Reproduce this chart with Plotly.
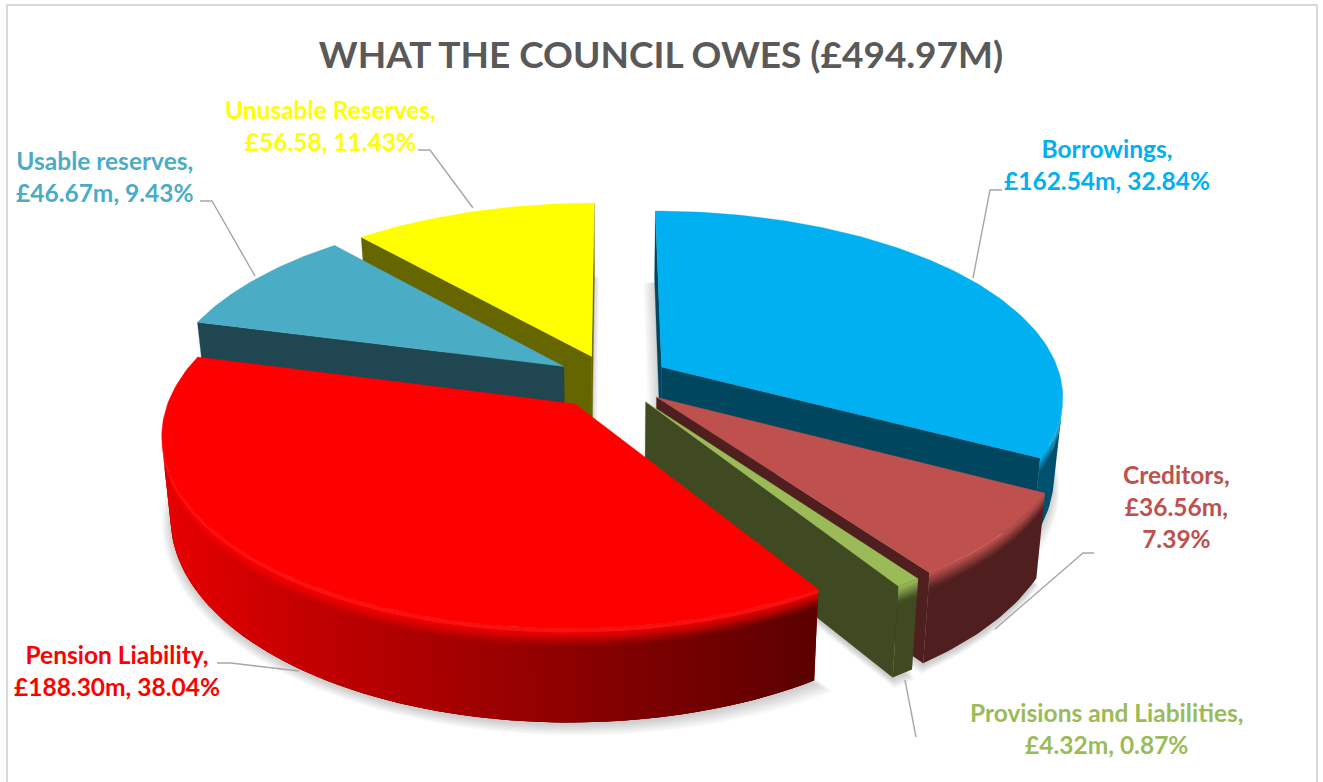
import math
import plotly.graph_objects as go

# Balance sheet liabilities, in £m, clockwise from twelve o'clock
categories = ["Borrowings", "Creditors", "Provisions and Liabilities",
              "Pension Liability", "Usable reserves", "Unusable Reserves"]
values = [162.54, 36.56, 4.32, 188.30, 46.67, 56.58]
value_labels = ["£162.54m, 32.84%", "£36.56m,<br>7.39%", "£4.32m, 0.87%",
                "£188.30m, 38.04%", "£46.67m, 9.43%", "£56.58, 11.43%"]
title_text = "WHAT THE COUNCIL OWES (£494.97M)"

# Slice styling
top_colors = ["#00B0F0", "#BE504D", "#9BBB59", "#FF0000", "#4BACC6", "#FFFF00"]
wall_colors = [[(0, "#00506F")], [(0, "#4E1F1E")], [(0, "#3F4A22")],
               [(170, "#E60000"), (330, "#BE0000"), (480, "#A00000"), (640, "#7E0000"), (815, "#5C0000")],
               [(0, "#1F4651")], [(0, "#666600")]]
cut_colors = ["#00465F", "#4E1F1E", "#3F4A22", "#5C0000", "#1F4651", "#666600"]
rim_glow = [0.0, 0.0, 0.0, 0.07, 0.0, 0.0]
explode_scale = [1.0, 1.0, 1.0, 1.14, 1.0, 1.0]
page_nudge = [0, 0, 0, 0, -3, -3]
draw_order = [5, 4, 0, 1, 2, 3]

# Projection of the tilted disc onto the page (pixels)
CX, CY = 614.0, 380.0
RX, RY = 400.0, 183.0
PERSP = 0.15
THICK = 78.0
SHRINK = 0.02
EXPLODE = 0.14
BEVEL_BANDS = [0.0, 0.03, 0.06, 0.09, 0.12, 0.15, 0.18]

LABEL_COLORS = top_colors[:]
LABEL_COLORS[1] = "#C0504D"
LABEL_POS = [(1107, 164), (1176, 506), (1106, 728), (117, 670), (105, 176), (330, 125)]
LEADERS = [[(1002, 190), (990, 190), (973, 278)],
           [(1094, 553), (1083, 553), (995, 629)],
           [(905, 680), (916, 737)],
           [(217, 663), (231, 663), (299, 671)],
           [(200, 201), (212, 201), (255, 276)],
           [(418, 150), (430, 150), (473, 208)]]


def project(x, y, z=0.0):
    d = 1 + PERSP * y
    px = CX + RX * x / d
    py = CY - RY * y / d
    px = CX + (px - CX) * (1 - SHRINK * z)
    return px, py + THICK * z / d


def hex_rgb(c):
    return tuple(int(c[i:i + 2], 16) for i in (1, 3, 5))


def rgb_hex(c):
    return "#%02X%02X%02X" % tuple(int(round(v)) for v in c)


def mix(a, b, t):
    return tuple(u + (v - u) * t for u, v in zip(a, b))


def wall_at(stops, x):
    if len(stops) == 1 or x <= stops[0][0]:
        return hex_rgb(stops[0][1])
    for (x0, c0), (x1, c1) in zip(stops, stops[1:]):
        if x <= x1:
            return mix(hex_rgb(c0), hex_rgb(c1), (x - x0) / (x1 - x0))
    return hex_rgb(stops[-1][1])


def area(pts):
    return sum(a[0] * b[1] - b[0] * a[1] for a, b in zip(pts, pts[1:] + pts[:1])) / 2


fig = go.Figure()


def polygon(pts, color, opacity=1.0, line=0.0):
    fig.add_trace(go.Scatter(
        x=[p[0] for p in pts] + [pts[0][0]], y=[p[1] for p in pts] + [pts[0][1]],
        mode="lines", fill="toself", fillcolor=color, opacity=opacity,
        line=dict(color=color, width=line), hoverinfo="skip", showlegend=False))


total = sum(values)
slices = []
acc = 0.0
for v, scale in zip(values, explode_scale):
    a0 = acc / total * 2 * math.pi
    acc += v
    a1 = acc / total * 2 * math.pi
    mid = (a0 + a1) / 2
    slices.append((a0, a1, EXPLODE * scale * math.sin(mid), EXPLODE * scale * math.cos(mid)))


def rim(i, a, z=0.0):
    _, _, ox, oy = slices[i]
    px, py = project(ox + math.sin(a), oy + math.cos(a), z)
    return px + page_nudge[i], py


def apex(i, z=0.0):
    _, _, ox, oy = slices[i]
    px, py = project(ox, oy, z)
    return px + page_nudge[i], py


def arc_angles(a0, a1):
    n = max(2, int((a1 - a0) / math.radians(1.0)))
    return [a0 + (a1 - a0) * j / n for j in range(n + 1)]


def strip(i, angles, z0, z1):
    return [rim(i, a, z0) for a in angles] + [rim(i, a, z1) for a in reversed(angles)]


def paint_strip(i, angles, z0, z1, shade):
    """Paint a band of the curved wall; neighbouring quads overlap so no seam shows."""
    if len(wall_colors[i]) == 1:
        polygon(strip(i, angles, z0, z1), rgb_hex(shade(wall_at(wall_colors[i], 0))))
        return
    polygon(strip(i, angles, z0, z1), rgb_hex(shade(wall_at(wall_colors[i], rim(i, angles[0], 0.5)[0]))))
    for j in range(len(angles) - 1):
        seg = angles[j:j + 3]
        base = wall_at(wall_colors[i], rim(i, angles[j], 0.5)[0])
        polygon(strip(i, seg, z0, z1), rgb_hex(shade(base)))


# Soft drop shadow under the footprint of every slice
for i in range(len(values)):
    a0, a1, _, _ = slices[i]
    foot = [apex(i, 1.0)] + [rim(i, a, 1.0) for a in arc_angles(a0, a1)]
    mx = sum(p[0] for p in foot) / len(foot)
    my = sum(p[1] for p in foot) / len(foot)
    for step in range(7):
        grow = 1.0 + 0.007 * step
        poly = [(mx + (p[0] - mx) * grow, my + (p[1] - my) * grow + 3 + step) for p in foot]
        polygon(poly, "#000000", opacity=0.026)

# Solid slices, back to front
for i in draw_order:
    a0, a1, _, _ = slices[i]
    apex_t, apex_b = apex(i, 0.0), apex(i, 1.0)
    top_rgb = hex_rgb(top_colors[i])

    for a, visible_sign in ((a0, -1), (a1, 1)):
        quad = [apex_t, rim(i, a, 0.0), rim(i, a, 1.0), apex_b]
        if area(quad) * visible_sign > 0:
            polygon(quad, cut_colors[i], line=0.3)

    angles = arc_angles(a0, a1)
    facing = [j for j, (u, w) in enumerate(zip(angles, angles[1:]))
              if area([rim(i, u, 0), rim(i, w, 0), rim(i, w, 1), rim(i, u, 1)]) < 0]
    if facing:
        front = angles[facing[0]:facing[-1] + 2]
        paint_strip(i, front, BEVEL_BANDS[-1], 1.0, lambda c: c)
        n_bands = len(BEVEL_BANDS) - 1
        # Rounded rim, lowest band first so each lighter band lands on the one below it
        for b in range(n_bands - 1, -1, -1):
            t = (b + 0.5) / n_bands
            glow = rim_glow[i] if b == 0 else 0.0
            paint_strip(i, front, BEVEL_BANDS[b], BEVEL_BANDS[b + 1] + 0.01,
                        lambda c, t=t, glow=glow: mix(mix(top_rgb, c, t), (255, 255, 255), glow))

    polygon([apex_t] + [rim(i, a, 0.0) for a in angles], top_colors[i], line=0.3)

# Leader lines and data labels
for pts in LEADERS:
    fig.add_trace(go.Scatter(x=[p[0] for p in pts], y=[p[1] for p in pts], mode="lines",
                             line=dict(color="#A6A6A6", width=1.4),
                             hoverinfo="skip", showlegend=False))

annotations = []
for name, val, col, (lx, ly) in zip(categories, value_labels, LABEL_COLORS, LABEL_POS):
    annotations.append(dict(x=lx, y=ly, xref="x", yref="y", showarrow=False, align="center",
                            xanchor="center", yanchor="middle",
                            text=f"<b>{name},<br>{val}</b>",
                            font=dict(family="Lato", size=24.5, color=col)))

fig.update_layout(
    width=1323, height=782, autosize=False,
    margin=dict(l=0, r=0, t=0, b=0),
    paper_bgcolor="#FFFFFF", plot_bgcolor="#FFFFFF",
    xaxis=dict(range=[0, 1323], visible=False, fixedrange=True),
    yaxis=dict(range=[782, 0], visible=False, fixedrange=True),
    annotations=annotations,
    title=dict(text=f"<b>{title_text}</b>", x=661 / 1323, y=1 - 55 / 782,
               xanchor="center", yanchor="middle",
               font=dict(family="Lato", size=37, color="#595959")),
    shapes=[dict(type="rect", xref="x", yref="y", x0=7, x1=1317, y0=5, y1=800,
                 line=dict(color="#D9D9D9", width=2), layer="below")],
)

fig.write_html("out.html", config={"displayModeBar": False})
